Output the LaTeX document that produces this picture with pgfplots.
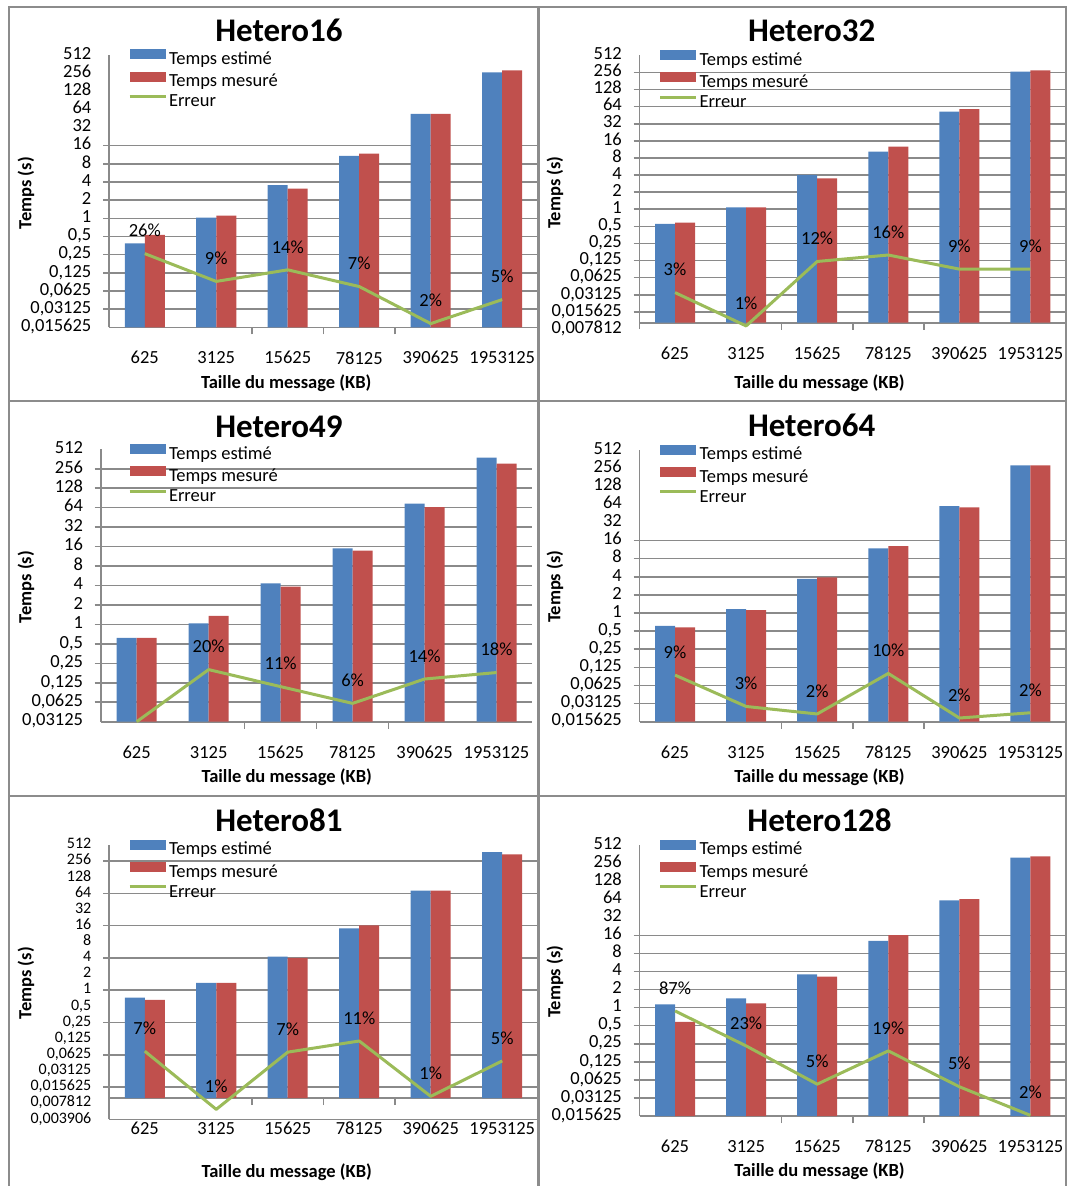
\documentclass[border=0pt]{standalone}
\usepackage{fontspec}
\setmainfont{Carlito}
\usepackage{pgfplots}
\pgfplotsset{compat=1.18}
\definecolor{cblue}{HTML}{4F81BD}
\definecolor{cred}{HTML}{C0504D}
\definecolor{cgreen}{HTML}{9BBB59}
\definecolor{gridc}{HTML}{8A8A8A}
\definecolor{framec}{HTML}{8C8C8C}
\newcommand\fs{\fontsize{18.5bp}{22bp}\selectfont}
\newcommand\fss{\fontsize{16bp}{19bp}\selectfont}
\newcommand\tfs{\fontsize{33bp}{38bp}\selectfont\bfseries}

\pgfplotsset{
  gridax/.style={/pgfplots/scale only axis, /pgfplots/ymax=512, /pgfplots/xmin=-0.5, /pgfplots/xmax=5.5,
    /pgfplots/enlargelimits=false,
    /pgfplots/axis x line*=bottom, /pgfplots/axis y line*=left, /pgfplots/xtick=\empty,
    /pgfplots/axis line style={draw=gridc, line width=1.6bp, -},
    /pgfplots/yticklabels={},
    /pgfplots/ymajorgrids=true,
    /pgfplots/major tick length=6bp, /pgfplots/tick align=outside,
    /pgfplots/tick style={draw=gridc, line width=1.6bp},
    /pgfplots/major grid style={draw=gridc, line width=1.6bp},
  },
  labax/.style={/pgfplots/scale only axis, /pgfplots/ymax=512, /pgfplots/xmin=-0.5, /pgfplots/xmax=5.5,
    /pgfplots/enlargelimits=false,
    /pgfplots/axis x line*=bottom, /pgfplots/axis y line*=left, /pgfplots/xtick=\empty,
    /pgfplots/axis line style={draw=none},
    /pgfplots/major tick length=0pt,
    /pgfplots/tick style={draw=none},
    /pgfplots/yticklabel style={font=\fs, text=black, anchor=east, inner sep=0pt, xshift=-17.5bp,
      text height=11bp, text depth=2.5bp},
  },
  barax/.style={/pgfplots/scale only axis, /pgfplots/ymax=512, /pgfplots/xmin=-0.5, /pgfplots/xmax=5.5,
    /pgfplots/enlargelimits=false,
    /pgfplots/axis y line=none, /pgfplots/axis x line*=bottom, /pgfplots/clip=false,
    /pgfplots/axis line style={draw=gridc, line width=1.6bp, -},
    /pgfplots/ytick=\empty,
    /pgfplots/xtick={0,...,5}, /pgfplots/xticklabels={625,3125,15625,78125,390625,1953125},
    /pgfplots/major tick length=0pt,
    /pgfplots/xticklabel style={font=\fs, text=black, anchor=center, inner sep=0pt, yshift=-30.5bp},
    /pgfplots/extra x ticks={1.5,2.5,3.5}, /pgfplots/extra x tick labels={},
    /pgfplots/extra x tick style={/pgfplots/major tick length=7bp, /pgfplots/tick align=outside, /pgfplots/tick style={draw=gridc, line width=1.6bp}},
    /pgfplots/legend style={draw=none, fill=none, inner sep=0pt, outer sep=0pt, at={(0,1)}, anchor=north west,
      xshift=19bp, yshift=5.5bp, font=\fs, row sep=3.1bp, column sep=2bp,
      nodes={inner sep=0pt, text height=13bp, text depth=4bp, text=black}},
    /pgfplots/legend cell align=left,
  },
  est/.style={/pgfplots/ybar, /pgf/bar width=20bp, /pgf/bar shift=-10bp, fill=cblue, draw=none,
    /pgfplots/legend image code/.code={\fill[cblue] (0bp,0.7bp) rectangle (36bp,10.7bp);}},
  mes/.style={/pgfplots/ybar, /pgf/bar width=20bp, /pgf/bar shift=10bp, fill=cred, draw=none,
    /pgfplots/legend image code/.code={\fill[cred] (0bp,0.7bp) rectangle (36bp,10.7bp);}},
  err/.style={/tikz/sharp plot, draw=cgreen, line width=3bp, mark=none, line join=round,
    /pgfplots/nodes near coords, /pgfplots/point meta=explicit symbolic,
    /pgfplots/every node near coord/.append style={font=\fs, text=black, anchor=center, yshift=23bp, inner sep=0pt},
    /pgfplots/legend image code/.code={\draw[cgreen, line width=3bp] (0bp,5.7bp) -- (36bp,5.7bp);}},
}

\begin{document}
\begin{tikzpicture}
\useasboundingbox (0,0) rectangle (1071bp,-1186bp);

% ---------------- Hetero16 ----------------
\begin{axis}[ymode=log, gridax, at={(109bp,-54.8bp)}, anchor=north west, width=429bp, height=272.5bp, ymin=0.015625,
  ytick={16,8,4,2,1,0.5,0.25,0.125,0.0625,0.03125}]
\end{axis}
\begin{axis}[ymode=log, labax, at={(109bp,-54.8bp)}, anchor=north west, width=429bp, height=272.5bp, ymin=0.015625,
  ytick={512,256,128,64,32,16,8,4,2,1,0.5,0.25,0.125,0.0625,0.03125,0.015625},
  yticklabels={512,256,128,64,32,16,8,4,2,1,{0,5},{0,25},{0,125},{0,0625},{0,03125},{0,015625}}]
\end{axis}
\begin{axis}[ymode=log, log origin=infty, barax, at={(109bp,-54.8bp)}, anchor=north west, width=429bp, height=272.5bp, ymin=0.015625]
\addplot[est] coordinates {(0,0.385) (1,1.03) (2,3.55) (3,10.8) (4,54) (5,263)};
\addlegendentry{Temps estimé}
\addplot[mes] coordinates {(0,0.53) (1,1.11) (2,3.1) (3,11.8) (4,54) (5,284)};
\addlegendentry{Temps mesuré}
\addplot[err] coordinates {(0,0.26) [26\%] (1,0.09) [9\%] (2,0.14) [14\%] (3,0.074) [7\%] (4,0.018) [2\%] (5,0.045) [5\%]};
\addlegendentry{Erreur}
\end{axis}

% ---------------- Hetero32 ----------------
\begin{axis}[ymode=log, gridax, at={(639.5bp,-55.3bp)}, anchor=north west, width=426.5bp, height=273.7bp, ymin=0.0078125,
  x axis line style={draw=none},
  ytick={256,128,64,32,16,8,4,2,1,0.5,0.25,0.125,0.0625,0.03125,0.015625}]
\end{axis}
\begin{axis}[ymode=log, labax, at={(639.5bp,-55.3bp)}, anchor=north west, width=426.5bp, height=273.7bp, ymin=0.0078125,
  ytick={512,256,128,64,32,16,8,4,2,1,0.5,0.25,0.125,0.0625,0.03125,0.015625,0.0078125},
  yticklabels={512,256,128,64,32,16,8,4,2,1,{0,5},{0,25},{0,125},{0,0625},{0,03125},{0,015625},{0,007812}}]
\end{axis}
\begin{axis}[ymode=log, log origin=infty, barax, at={(639.5bp,-55.3bp)}, anchor=north west, width=426.5bp, height=267.4bp, ymin=0.01003]
\addplot[est] coordinates {(0,0.55) (1,1.08) (2,4.0) (3,10.3) (4,52) (5,263)};
\addlegendentry{Temps estimé}
\addplot[mes] coordinates {(0,0.58) (1,1.08) (2,3.5) (3,12.6) (4,58) (5,278)};
\addlegendentry{Temps mesuré}
\addplot[err] coordinates {(0,0.034) [3\%] (1,0.0088) [1\%] (2,0.12) [12\%] (3,0.156) [16\%] (4,0.088) [9\%] (5,0.088) [9\%]};
\addlegendentry{Erreur}
\end{axis}

% ---------------- Hetero49 ----------------
\begin{axis}[ymode=log, gridax, at={(100.7bp,-449.3bp)}, anchor=north west, width=431.8bp, height=272.4bp, ymin=0.03125,
  ytick={256,128,64,32,16,8,4,2,1,0.5,0.25,0.125,0.0625}]
\end{axis}
\begin{axis}[ymode=log, labax, at={(100.7bp,-449.3bp)}, anchor=north west, width=431.8bp, height=272.4bp, ymin=0.03125,
  ytick={512,256,128,64,32,16,8,4,2,1,0.5,0.25,0.125,0.0625,0.03125},
  yticklabels={512,256,128,64,32,16,8,4,2,1,{0,5},{0,25},{0,125},{0,0625},{0,03125}}]
\end{axis}
\begin{axis}[ymode=log, log origin=infty, barax, at={(100.7bp,-449.3bp)}, anchor=north west, width=431.8bp, height=272.4bp, ymin=0.03125,
  legend style={xshift=8.3bp}]
\addplot[est] coordinates {(0,0.62) (1,1.04) (2,4.3) (3,15.0) (4,74) (5,380)};
\addlegendentry{Temps estimé}
\addplot[mes] coordinates {(0,0.62) (1,1.35) (2,3.85) (3,13.8) (4,65) (5,307)};
\addlegendentry{Temps mesuré}
\addplot[err] coordinates {(0,0.03125) [{}] (1,0.2) [20\%] (2,0.109) [11\%] (3,0.06) [6\%] (4,0.143) [14\%] (5,0.18) [18\%]};
\addlegendentry{Erreur}
\end{axis}

% ---------------- Hetero64 ----------------
\begin{axis}[ymode=log, gridax, at={(639.5bp,-450bp)}, anchor=north west, width=426.5bp, height=271.7bp, ymin=0.015625,
  ytick={16,8,4,2,1,0.5,0.25,0.125,0.0625,0.03125}]
\end{axis}
\begin{axis}[ymode=log, labax, at={(639.5bp,-450bp)}, anchor=north west, width=426.5bp, height=271.7bp, ymin=0.015625,
  ytick={512,256,128,64,32,16,8,4,2,1,0.5,0.25,0.125,0.0625,0.03125,0.015625},
  yticklabels={512,256,128,64,32,16,8,4,2,1,{0,5},{0,25},{0,125},{0,0625},{0,03125},{0,015625}}]
\end{axis}
\begin{axis}[ymode=log, log origin=infty, barax, at={(639.5bp,-450bp)}, anchor=north west, width=426.5bp, height=271.7bp, ymin=0.015625]
\addplot[est] coordinates {(0,0.61) (1,1.16) (2,3.7) (3,11.9) (4,60) (5,285)};
\addlegendentry{Temps estimé}
\addplot[mes] coordinates {(0,0.58) (1,1.12) (2,3.9) (3,13.0) (4,57) (5,285)};
\addlegendentry{Temps mesuré}
\addplot[err] coordinates {(0,0.093) [9\%] (1,0.028) [3\%] (2,0.021) [2\%] (3,0.099) [10\%] (4,0.018) [2\%] (5,0.022) [2\%]};
\addlegendentry{Erreur}
\end{axis}

% ---------------- Hetero81 ----------------
\begin{axis}[ymode=log, gridax, at={(109bp,-845bp)}, anchor=north west, width=429bp, height=274.3bp, ymin=0.00390625,
  ytick={256,64,16,4,1,0.25,0.0625,0.015625}]
\end{axis}
\begin{axis}[ymode=log, labax, at={(109bp,-845bp)}, anchor=north west, width=429bp, height=274.3bp, ymin=0.00390625,
  yticklabel style={font=\fss, text height=9.5bp, text depth=2bp},
  ytick={512,256,128,64,32,16,8,4,2,1,0.5,0.25,0.125,0.0625,0.03125,0.015625,0.0078125,0.00390625},
  yticklabels={512,256,128,64,32,16,8,4,2,1,{0,5},{0,25},{0,125},{0,0625},{0,03125},{0,015625},{0,007812},{0,003906}}]
\end{axis}
\begin{axis}[ymode=log, log origin=infty, barax, at={(109bp,-845bp)}, anchor=north west, width=429bp, height=253bp, ymin=0.00976]
\addplot[est] coordinates {(0,0.73) (1,1.37) (2,4.26) (3,14.2) (4,72) (5,379)};
\addlegendentry{Temps estimé}
\addplot[mes] coordinates {(0,0.66) (1,1.37) (2,4.0) (3,16.2) (4,72) (5,343)};
\addlegendentry{Temps mesuré}
\addplot[err] coordinates {(0,0.073) [7\%] (1,0.006) [1\%] (2,0.07) [7\%] (3,0.113) [11\%] (4,0.0105) [1\%] (5,0.048) [5\%]};
\addlegendentry{Erreur}
\end{axis}

% ---------------- Hetero128 ----------------
\begin{axis}[ymode=log, gridax, at={(639.5bp,-845bp)}, anchor=north west, width=426.5bp, height=271bp, ymin=0.015625,
  ytick={16,8,4,2,1,0.5,0.25,0.125,0.0625,0.03125}]
\end{axis}
\begin{axis}[ymode=log, labax, at={(639.5bp,-845bp)}, anchor=north west, width=426.5bp, height=271bp, ymin=0.015625,
  ytick={512,256,128,64,32,16,8,4,2,1,0.5,0.25,0.125,0.0625,0.03125,0.015625},
  yticklabels={512,256,128,64,32,16,8,4,2,1,{0,5},{0,25},{0,125},{0,0625},{0,03125},{0,015625}}]
\end{axis}
\begin{axis}[ymode=log, log origin=infty, barax, at={(639.5bp,-845bp)}, anchor=north west, width=426.5bp, height=271bp, ymin=0.015625]
\addplot[est] coordinates {(0,1.13) (1,1.42) (2,3.58) (3,12.9) (4,61) (5,315)};
\addlegendentry{Temps estimé}
\addplot[mes] coordinates {(0,0.58) (1,1.18) (2,3.27) (3,16.2) (4,64) (5,331)};
\addlegendentry{Temps mesuré}
\addplot[err] coordinates {(0,0.88) [87\%] (1,0.23) [23\%] (2,0.053) [5\%] (3,0.19) [19\%] (4,0.048) [5\%] (5,0.016) [2\%]};
\addlegendentry{Erreur}
\end{axis}

% ---------------- titles and axis titles ----------------
\node[font=\tfs] at (279bp,-30.7bp) {Hetero16};
\node[font=\tfs] at (811.7bp,-30.3bp) {Hetero32};
\node[font=\tfs] at (279bp,-426.3bp) {Hetero49};
\node[font=\tfs] at (811.7bp,-425.5bp) {Hetero64};
\node[font=\tfs] at (279bp,-820bp) {Hetero81};
\node[font=\tfs] at (819.5bp,-820bp) {Hetero128};

\node[font=\fs\bfseries, rotate=90] at (25.9bp,-193.3bp) {Temps (s)};
\node[font=\fs\bfseries, rotate=90] at (555bp,-192.5bp) {Temps (s)};
\node[font=\fs\bfseries, rotate=90] at (25.9bp,-587bp) {Temps (s)};
\node[font=\fs\bfseries, rotate=90] at (555bp,-586.7bp) {Temps (s)};
\node[font=\fs\bfseries, rotate=90] at (25.9bp,-983.3bp) {Temps (s)};
\node[font=\fs\bfseries, rotate=90] at (555bp,-981.7bp) {Temps (s)};

\node[font=\fs\bfseries] at (286.2bp,-383.3bp) {Taille du message (KB)};
\node[font=\fs\bfseries] at (819.5bp,-383.3bp) {Taille du message (KB)};
\node[font=\fs\bfseries] at (286.7bp,-776.7bp) {Taille du message (KB)};
\node[font=\fs\bfseries] at (819.5bp,-776.7bp) {Taille du message (KB)};
\node[font=\fs\bfseries] at (286.7bp,-1171.7bp) {Taille du message (KB)};
\node[font=\fs\bfseries] at (819.5bp,-1171bp) {Taille du message (KB)};

% ---------------- panel frames ----------------
\draw[framec, line width=2bp] (8.5bp,-1186bp) -- (8.5bp,-7bp) -- (1066bp,-7bp) -- (1066bp,-1186bp);
\draw[framec, line width=3.5bp] (538.5bp,-7bp) -- (538.5bp,-1186bp);
\draw[framec, line width=2bp] (8.5bp,-401bp) -- (1066bp,-401bp);
\draw[framec, line width=2bp] (8.5bp,-796bp) -- (1066bp,-796bp);
\end{tikzpicture}
\end{document}
